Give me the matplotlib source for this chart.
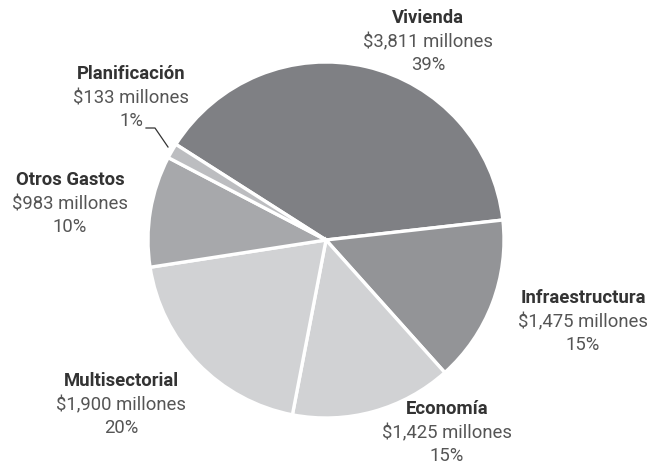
import matplotlib.pyplot as plt

# datos
categorias = ["Vivienda", "Infraestructura", "Economía", "Multisectorial", "Otros Gastos", "Planificación"]
montos = [3811, 1475, 1425, 1900, 983, 133]
textos_monto = ["$3,811 millones", "$1,475 millones", "$1,425 millones",
                "$1,900 millones", "$983 millones", "$133 millones"]
porcentajes = ["39%", "15%", "15%", "20%", "10%", "1%"]
colores = ["#7f8084", "#939497", "#d1d2d4", "#d1d2d4", "#a7a8ab", "#bcbdc0"]

W, H = 659, 465
fig = plt.figure(figsize=(W / 100, H / 100), dpi=100)
ax = fig.add_axes([0, 0, 1, 1])
ax.set_aspect("equal")
ax.axis("off")

# pastel (centro en pixeles, y invertida)
ax.pie(montos, colors=colores, startangle=147.5, counterclock=False,
       center=(326, H - 240), radius=178,
       wedgeprops=dict(edgecolor="white", linewidth=2.4))
ax.set_xlim(0, W)
ax.set_ylim(0, H)

# etiquetas: centro x, y de la primera linea
pos_etiquetas = [(428, 18), (583, 298), (447, 409), (121, 381), (70, 180), (131, 74)]
for nombre, monto, pct, (x, y) in zip(categorias, textos_monto, porcentajes, pos_etiquetas):
    ax.text(x, H - y, nombre, ha="center", va="center", fontsize=13.3,
            fontweight="bold", color="#333333", family="Roboto")
    ax.text(x, H - y - 24.5, monto, ha="center", va="center", fontsize=13.3,
            color="#555555", family="Roboto")
    ax.text(x, H - y - 47, pct, ha="center", va="center", fontsize=13.3,
            color="#555555", family="Roboto")

# linea guia de Planificación
ax.plot([146, 155, 168], [H - 128, H - 128, H - 147], color="#333333", linewidth=0.9)

fig.savefig("out.png", dpi=100)
